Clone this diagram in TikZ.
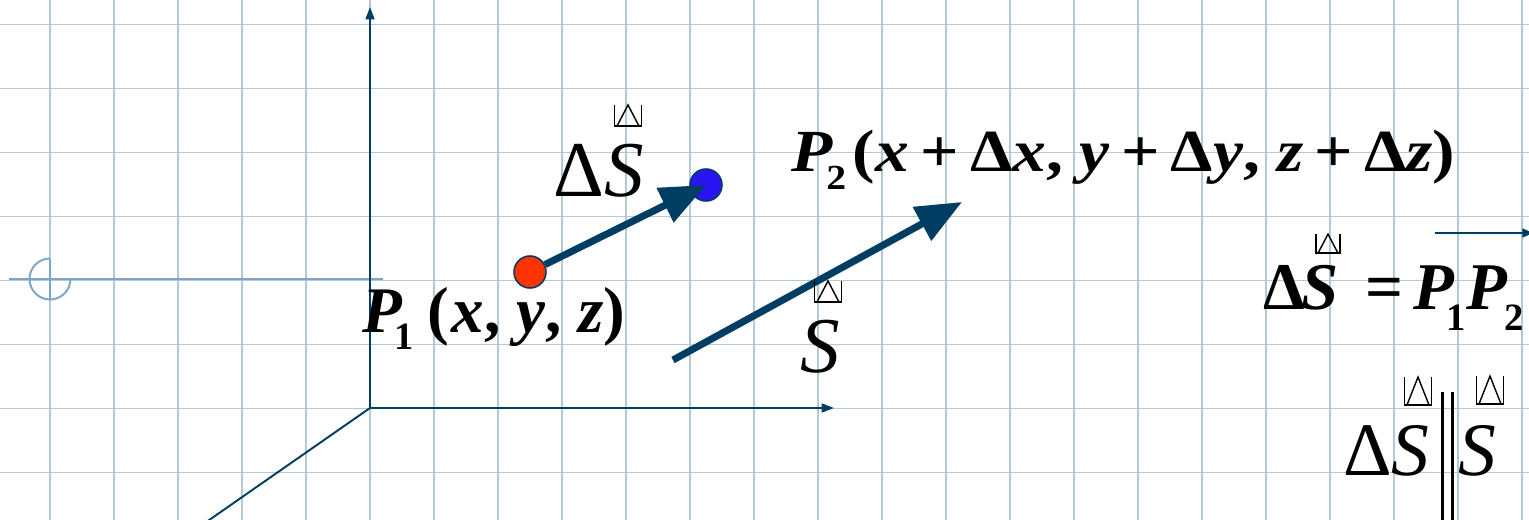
\documentclass[tikz,border=0pt]{standalone}
\usepackage{fontspec}
\setmainfont{Liberation Serif}
\usepackage{graphicx}
\usetikzlibrary{arrows.meta}
\definecolor{gridblue}{RGB}{180,200,214}
\definecolor{markblue}{RGB}{122,166,204}
\definecolor{navy}{RGB}{0,61,99}
\definecolor{dotred}{RGB}{255,51,0}
\definecolor{dotblue}{RGB}{43,20,242}
\newcommand{\sz}[1]{\fontsize{#1}{#1}\selectfont}
\tikzset{
  vecbox/.pic={
    \draw[line width=0.8pt] (-13.5,-21) -- (-13.5,0) -- (13.5,0) -- (13.5,-21);
    \draw[line width=0.8pt] (-11,0) -- (0,-21) -- (11,0);
  }
}

\begin{document}
\begin{tikzpicture}[x=0.02cm, y=-0.02cm,
    gridline/.style={draw=gridblue, line width=1.1pt},
    axis/.style={draw=navy, line width=1.1pt},
    axisarr/.style={axis, -{Triangle[length=7pt,width=5pt]}},
    vec/.style={draw=navy, line width=4pt, -{Triangle[length=26pt,width=21pt]}},
    dot/.style={circle, draw=navy, line width=0.9pt, minimum size=0.64cm, inner sep=0pt},
    lbl/.style={anchor=base west, inner sep=0pt, text=black}]
  \useasboundingbox (0,0) rectangle (1529,520);
  \begin{scope}
    \clip (0,0) rectangle (1529,520);
    \fill[white] (0,0) rectangle (1529,520);
    \foreach \gx in {50,114,...,1522} \draw[gridline] (\gx,0) -- (\gx,520);
    \foreach \gy in {24.5,88.5,...,472.5} \draw[gridline] (0,\gy) -- (1529,\gy);
  \end{scope}
  % mark on the left
  \draw[markblue, line width=1.1pt] (9,279) -- (383,279);
  \draw[markblue, line width=1.1pt] (50,258.5) arc[start angle=90, end angle=360, radius=0.41cm];
  \draw[markblue, line width=1.1pt] (50,259) -- (50,299);
  % axes
  \coordinate (O) at (370,408);
  \coordinate (ytop) at (370,7);
  \coordinate (xend) at (834,408);
  \coordinate (zend) at (202,525);
  \draw[axisarr] (O) -- (ytop);
  \draw[axisarr] (O) -- (xend);
  \draw[axis] (O) -- (zend);
  % points and vectors
  \node[dot, fill=dotred] (P1) at (530,272) {};
  \node[dot, fill=dotblue] (P2) at (706,185) {};
  \draw[vec] (P1) -- (P2.center);
  \coordinate (s0) at (673,360);
  \coordinate (s1) at (962,202);
  \draw[vec] (s0) -- (s1);
  % labels
  \node[lbl, font=\sz{37}\bfseries] (p1lbl) at (362,333)
    {\textit{P}\kern-0.12em\raisebox{-0.26em}{\sz{22}1}\kern0.2em(\kern0.05em\textit{x}, \textit{y}, \textit{z})};
  \node[lbl, font=\sz{45}] (dslbl) at (553,197) {Δ\textit{S}};
  \pic at (628,126) {vecbox};
  \node[lbl, font=\sz{45}] (slbl) at (800,373) {\textit{S}};
  \pic at (828,302) {vecbox};
  \node[lbl, font=\sz{34}\bfseries] (p2lbl) at (791,172)
    {\scalebox{1.13}[1]{\textit{P}\kern-0.1em\raisebox{-0.3em}{\sz{20}2}\kern0.1em(\textit{x}\,+\,Δ\textit{x}, \textit{y}\,+\,Δ\textit{y}, \textit{z}\,+\,Δ\textit{z})}};
  % formulas on the right
  \node[lbl, font=\sz{38}\bfseries] (eqlbl) at (1263,310)
    {Δ\kern-0.05em\textit{S}\kern0.4em=\kern0.15em\textit{P}\kern-0.12em\raisebox{-0.3em}{\sz{22}1}\textit{P}\kern-0.05em\raisebox{-0.3em}{\sz{22}2}};
  \pic[scale=0.9] at (1328,253) {vecbox};
  \coordinate (bar0) at (1435,233);
  \coordinate (bar1) at (1533,233);
  \draw[axis, -{Triangle[length=6pt,width=5pt]}] (bar0) -- (bar1);
  \node[lbl, font=\sz{43}] (parlbl) at (1343,475) {Δ\textit{S}};
  \node[lbl, font=\sz{43}] (parlbl2) at (1458,475) {\textit{S}};
  \pic[yscale=1.33] at (1418,405) {vecbox};
  \pic[yscale=1.33] at (1490,404) {vecbox};
  \coordinate (bar2) at (1442,392);
  \coordinate (bar3) at (1452,392);
  \draw[line width=1.7pt] (bar2) -- ++(0,135);
  \draw[line width=1.7pt] (bar3) -- ++(0,135);
\end{tikzpicture}
\end{document}
